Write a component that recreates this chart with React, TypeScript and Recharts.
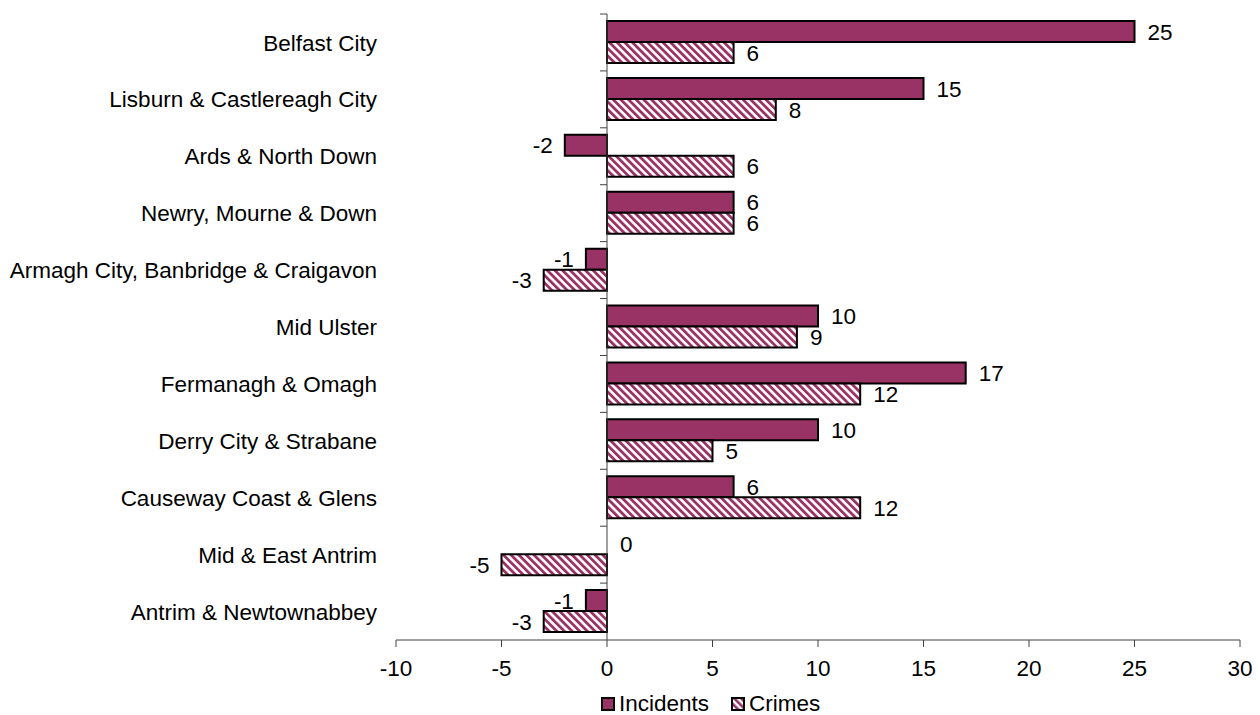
import { Bar, BarChart, ReferenceLine, Rectangle, XAxis, YAxis } from 'recharts';

const districts = [
  'Belfast City',
  'Lisburn & Castlereagh City',
  'Ards & North Down',
  'Newry, Mourne & Down',
  'Armagh City, Banbridge & Craigavon',
  'Mid Ulster',
  'Fermanagh & Omagh',
  'Derry City & Strabane',
  'Causeway Coast & Glens',
  'Mid & East Antrim',
  'Antrim & Newtownabbey',
];
const incidents = [25, 15, -2, 6, -1, 10, 17, 10, 6, 0, -1];
const crimes = [6, 8, 6, 6, -3, 9, 12, 5, 12, -5, -3];
const xTicks = [-10, -5, 0, 5, 10, 15, 20, 25, 30];

const maroon = '#993366';
const font = '"Liberation Sans", Arial, sans-serif';
const fontSize = 22.5;

const W = 1260;
const H = 715;
const margin = { top: 14, right: 20, bottom: 30, left: 6 };
const xAxisHeight = 45;
const yAxisWidth = 390;
const plotLeft = margin.left + yAxisWidth;
const plotWidth = W - margin.right - plotLeft;
const plotHeight = H - margin.top - margin.bottom - xAxisHeight;
const band = plotHeight / districts.length;
const zeroX = plotLeft + ((0 - xTicks[0]) / (xTicks[xTicks.length - 1] - xTicks[0])) * plotWidth;

const chartData = districts.map((name, i) => ({ name, incidents: incidents[i], crimes: crimes[i] }));

function CategoryTick({ y, payload }: any) {
  return (
    <g>
      <text x={plotLeft - 19} y={y} dy="0.36em" textAnchor="end" fontSize={fontSize} fill="#000" fontFamily={font}>
        {payload.value}
      </text>
      <line x1={zeroX - 7} x2={zeroX} y1={y - band / 2} y2={y - band / 2} stroke="#404040" strokeWidth={1} />
    </g>
  );
}

// bar + its value label, so zero-length bars still get their "0"
function makeBarShape(key: 'incidents' | 'crimes') {
  return (props: any) => {
    const { x, y, width, height, fill } = props;
    const value = props.payload[key];
    const left = Math.min(x, x + width);
    const right = Math.max(x, x + width);
    const neg = value < 0;
    return (
      <g>
        {Math.abs(width) > 0 && (
          <Rectangle x={left} y={y} width={right - left} height={height} fill={fill} stroke="#000" strokeWidth={2} />
        )}
        <text
          x={neg ? left - 12 : right + 13}
          y={y + height / 2}
          dy="0.36em"
          textAnchor={neg ? 'end' : 'start'}
          fontSize={fontSize}
          fill="#000"
          fontFamily={font}
        >
          {value}
        </text>
      </g>
    );
  };
}

function Swatch({ hatched }: { hatched: boolean }) {
  return (
    <svg width={14} height={14} style={{ display: 'block' }}>
      <defs>
        <pattern id="legendHatch" width={5} height={5} patternUnits="userSpaceOnUse" patternTransform="rotate(-45)">
          <rect width={5} height={5} fill="#fff" />
          <rect width={2.6} height={5} fill={maroon} />
        </pattern>
      </defs>
      <rect x={1} y={1} width={12} height={12} fill={hatched ? 'url(#legendHatch)' : maroon} stroke="#000" strokeWidth={2} />
    </svg>
  );
}

export default function App() {
  return (
    <div style={{ position: 'absolute', left: 0, top: 0, width: W, height: H, fontFamily: font, background: '#fff' }}>
      <BarChart width={W} height={H} data={chartData} layout="vertical" margin={margin} barSize={21} barGap={0}>
        <defs>
          <pattern id="crimeHatch" width={5.4} height={5.4} patternUnits="userSpaceOnUse" patternTransform="rotate(-45)">
            <rect width={5.4} height={5.4} fill="#fff" />
            <rect width={2.8} height={5.4} fill={maroon} />
          </pattern>
        </defs>
        <XAxis
          type="number"
          domain={[xTicks[0], xTicks[xTicks.length - 1]]}
          ticks={xTicks}
          tick={{ fontSize, fill: '#000', fontFamily: font }}
          tickSize={7}
          tickMargin={13}
          height={xAxisHeight}
          stroke="#404040"
          interval={0}
        />
        <YAxis
          type="category"
          dataKey="name"
          width={yAxisWidth}
          axisLine={false}
          tickLine={false}
          tick={<CategoryTick />}
          interval={0}
        />
        <ReferenceLine x={0} stroke="#404040" strokeWidth={1} />
        <Bar dataKey="incidents" name="Incidents" fill={maroon} shape={makeBarShape('incidents')} isAnimationActive={false} />
        <Bar dataKey="crimes" name="Crimes" fill="url(#crimeHatch)" shape={makeBarShape('crimes')} isAnimationActive={false} />
      </BarChart>
      <div
        style={{
          position: 'absolute',
          left: 601,
          top: 692,
          display: 'flex',
          alignItems: 'center',
          fontSize,
          lineHeight: '24px',
          color: '#000',
        }}
      >
        <Swatch hatched={false} />
        <span style={{ marginLeft: 4, marginRight: 22 }}>Incidents</span>
        <Swatch hatched />
        <span style={{ marginLeft: 4 }}>Crimes</span>
      </div>
    </div>
  );
}
